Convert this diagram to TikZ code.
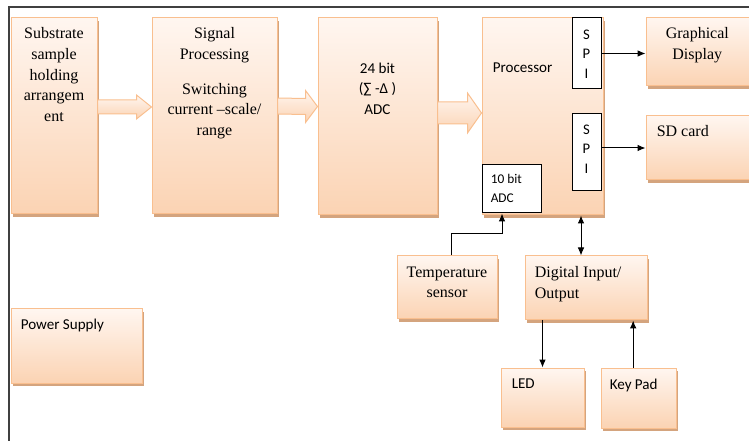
\documentclass[tikz,border=0pt]{standalone}
\usepackage{fontspec}
\setmainfont{Liberation Serif}
\newfontfamily\calibri{Carlito}
\usetikzlibrary{positioning,calc,shadows,arrows.meta}

\definecolor{boxline}{HTML}{F9BF8F}
\definecolor{peachtop}{HTML}{FFF6F0}
\definecolor{peachbot}{HTML}{FBD3B3}
\definecolor{shadowtan}{HTML}{D4A47E}
\definecolor{framegray}{HTML}{404040}

% fat arrow: from, to, y offset, shaft half, head half, head length
\newcommand{\blockarrow}[6]{%
  \path[barrow] ($(#1.east)+(0,#3-#4)$) -- ($(#2.west)+(-#6,#3-#4)$)
    -- ($(#2.west)+(-#6,#3-#5)$) -- ($(#2.west)+(0,#3)$)
    -- ($(#2.west)+(-#6,#3+#5)$) -- ($(#2.west)+(-#6,#3+#4)$)
    -- ($(#1.east)+(0,#3+#4)$) -- cycle;}

\begin{document}
\begin{tikzpicture}[x=0.75pt,y=-0.75pt,
    every path/.style={>={Latex[length=6pt,width=5pt]}},
    block/.style={draw=boxline,line width=0.75pt,top color=peachtop,bottom color=peachbot,
      drop shadow={shadow xshift=1.5pt,shadow yshift=-2.25pt,fill=shadowtan,opacity=1},
      inner sep=0pt},
    port/.style={draw=black,fill=white,line width=0.75pt,inner sep=0pt},
    serif/.style={inner sep=0pt,font=\fontsize{12}{15.5}\selectfont},
    sans/.style={inner sep=0pt,font=\calibri\fontsize{11.3}{15.4}\selectfont},
    barrow/.style={draw=boxline,line width=0.75pt,top color=peachtop,bottom color=peachbot},
    conn/.style={draw=black,line width=0.75pt}]
  \useasboundingbox (0,0) rectangle (749,441);

  % frame
  \draw[framegray,line width=1.2pt] (9,441) -- (9,7) -- (749,7);

  % blocks
  \node[block,minimum width=64.5pt,minimum height=147pt]   (sub)  at (54,116)    {};
  \node[block,minimum width=93.75pt,minimum height=147pt]  (sig)  at (214.5,116) {};
  \node[block,minimum width=89.25pt,minimum height=147.75pt] (adc) at (377.5,116.5) {};
  \node[block,minimum width=90.75pt,minimum height=147.75pt] (proc) at (542.5,116.5) {};
  \node[block,minimum width=81.75pt,minimum height=51pt]   (gd)   at (700.5,52)  {};
  \node[block,minimum width=81.75pt,minimum height=48pt]   (sd)   at (700.5,148) {};
  \node[block,minimum width=75pt,minimum height=47.25pt]   (temp) at (447,287.5) {};
  \node[block,minimum width=91.5pt,minimum height=48pt]    (dio)  at (586,288)   {};
  \node[block,minimum width=62.25pt,minimum height=44.25pt] (led) at (542.5,397.5) {};
  \node[block,minimum width=56.25pt,minimum height=45pt]   (key)  at (638.5,398) {};
  \node[block,minimum width=98.25pt,minimum height=55.5pt] (pow)  at (76.5,346)  {};

  % ports inside the processor
  \node[port,minimum width=21.75pt,minimum height=53.25pt] (spiA)   at (586.5,53.5)  {};
  \node[port,minimum width=21.75pt,minimum height=57.75pt] (spiB)   at (586.5,152.5) {};
  \node[port,minimum width=44.25pt,minimum height=36pt]    (adcten) at (511.5,189)   {};

  % fat arrows
  \blockarrow{sub}{sig}{-9}{7}{12}{15}
  \blockarrow{sig}{adc}{-10}{8}{16}{12}
  \blockarrow{adc}{proc}{-3.5}{11}{20}{14}

  % texts
  \node[serif,align=center,below=7.5pt of sub.north] (subtxt)
    {Substrate\\sample\\holding\\arrangem\\ent};
  \node[serif,align=center,below=7.5pt of sig.north] (sigtxt)
    {Signal\\Processing\\[10.5pt]Switching\\current –scale/\\range};
  \node[sans,align=center,below=33.75pt of adc.north] (adctxt) {24 bit\\(∑ -Δ )\\ADC};
  \node[sans,below right=33.75pt and 8.25pt of proc.north west] (proctxt) {Processor};
  \node[sans,align=center,font=\calibri\fontsize{11}{14.6}\selectfont,
    below=9pt of spiA.north] (spiAtxt) {S\\P\\I};
  \node[sans,align=center,font=\calibri\fontsize{11}{14.6}\selectfont,
    below=8.25pt of spiB.north] (spiBtxt) {S\\P\\I};
  \node[sans,align=left,font=\calibri\fontsize{10}{14.25}\selectfont,
    below right=6.75pt and 6.75pt of adcten.north west] (adctentxt) {10 bit\\ADC};
  \node[serif,align=center,below right=7.5pt and 15pt of gd.north west] (gdtxt)
    {Graphical\\Display};
  \node[serif,below right=7.5pt and 8.25pt of sd.north west] (sdtxt) {SD card};
  \node[serif,align=center,below=8.25pt of temp.north] (temptxt) {Temperature\\sensor};
  \node[serif,align=left,below right=8.25pt and 7.5pt of dio.north west] (diotxt)
    {Digital Input/\\Output};
  \node[sans,below right=8.25pt and 8.25pt of led.north west] (ledtxt) {LED};
  \node[sans,below right=8.25pt and 6.75pt of key.north west] (keytxt) {Key Pad};
  \node[sans,below right=7.5pt and 7.5pt of pow.north west] (powtxt) {Power Supply};

  % connectors
  \coordinate (tbend) at (502,234);
  \coordinate (iobus) at (581,236);
  \draw[conn,->] (spiA.east) -- (spiA.east -| gd.west);
  \draw[conn,->] (spiB.east |- sd.west) -- (sd.west);
  \draw[conn,->] (temp.north) ++(4,0) |- (tbend) -- (tbend |- adcten.south);
  \draw[conn,<->] (iobus |- proc.south) -- (iobus |- dio.north);
  \draw[conn,->] (dio.south -| led.north) -- (led.north);
  \draw[conn,->] ([xshift=-4pt]key.north) -- ([xshift=-4pt]key.north |- dio.south);
\end{tikzpicture}
\end{document}
